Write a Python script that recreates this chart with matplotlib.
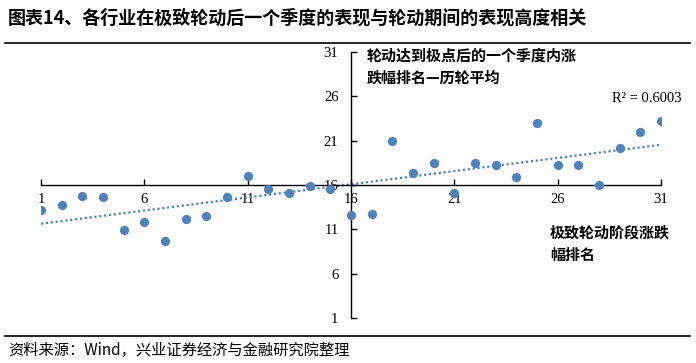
import matplotlib
matplotlib.use('Agg')
import matplotlib.pyplot as plt
import numpy as np

# rank during rotation (x) vs. rank one quarter after the extreme (y)
rank_during = list(range(1, 32))
rank_after = [13.2, 13.7, 14.8, 14.6, 10.9, 11.8, 9.65, 12.2, 12.5, 14.6,
              17.0, 15.6, 15.1, 15.85, 15.6, 12.6, 12.7, 20.9, 17.3, 18.5,
              15.05, 18.5, 18.3, 16.9, 23.0, 18.3, 18.2, 15.95, 20.2, 22.0,
              23.15]
ticks = [1, 6, 11, 16, 21, 26, 31]

title = '图表14、各行业在极致轮动后一个季度的表现与轮动期间的表现高度相关'
source = '资料来源：Wind，兴业证券经济与金融研究院整理'
y_name = '轮动达到极点后的一个季度内涨\n跌幅排名—历轮平均'
x_name = '极致轮动阶段涨跌\n幅排名'
r2_text = 'R² = 0.6003'

blue = '#4F81BD'
cjk = ['Noto Sans CJK SC', 'DejaVu Sans']
serif = ['Liberation Serif', 'DejaVu Serif']


def main():
    W, H = 696, 363
    fig = plt.figure(figsize=(W / 100, H / 100), dpi=100)

    # title, rules and source
    fig.text(8 / W, 1 - 18 / H, title, family=cjk, fontsize=13,
             fontweight='bold', va='center', ha='left')
    fig.add_artist(plt.Line2D([5 / W, 690 / W], [1 - 43 / H, 1 - 43 / H],
                              color='black', lw=1.2))
    fig.add_artist(plt.Line2D([5 / W, 690 / W], [1 - 336 / H, 1 - 336 / H],
                              color='black', lw=1.2))
    fig.text(8 / W, 1 - 350 / H, source, family=cjk, fontsize=11,
             va='center', ha='left')

    left, right = 41, 661
    top, bottom = 51.7, 318.3
    ax = fig.add_axes([left / W, 1 - bottom / H, (right - left) / W, (bottom - top) / H])

    ax.scatter(rank_during, rank_after, s=44, color=blue, zorder=3, linewidths=0)

    # linear trendline
    k, b = np.polyfit(rank_during, rank_after, 1)
    xs = np.array([1, 31])
    ax.plot(xs, k * xs + b, linestyle=(0, (1, 1.2)), color=blue, lw=1.6, zorder=2)

    ax.set_xlim(1, 31)
    ax.set_ylim(1, 31)
    ax.set_xticks(ticks)
    ax.set_yticks(ticks)

    for s in ['top', 'right']:
        ax.spines[s].set_visible(False)
    ax.spines['left'].set_position(('data', 16))
    ax.spines['bottom'].set_position(('data', 16))
    ax.spines['left'].set_linewidth(1.0)
    ax.spines['bottom'].set_linewidth(1.0)

    ax.tick_params(axis='x', direction='in', length=4, width=1, pad=6, labelsize=10.5)
    ax.tick_params(axis='y', direction='in', length=4, width=1, pad=9, labelsize=10.5)
    for lab in ax.get_xticklabels() + ax.get_yticklabels():
        lab.set_family(serif)
    ax.patch.set_alpha(0)

    fig.text(367 / W, 1 - 48 / H, y_name, family=cjk, fontsize=10.8,
             fontweight='bold', va='top', ha='left', linespacing=1.45)
    fig.text(612 / W, 1 - 98 / H, r2_text, family=serif, fontsize=10.5,
             va='center', ha='left')
    fig.text(550 / W, 1 - 225 / H, x_name, family=cjk, fontsize=10.8,
             fontweight='bold', va='top', ha='left', linespacing=1.45)

    fig.savefig('out.png', dpi=100)


if __name__ == "__main__": main()
